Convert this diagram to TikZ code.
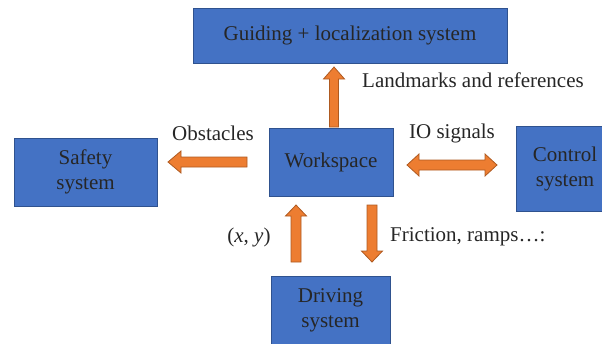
\documentclass[tikz,border=0pt]{standalone}
\usepackage{fontspec}
\setmainfont{Liberation Serif}
\usetikzlibrary{calc}
\definecolor{boxblue}{HTML}{4472C4}
\definecolor{boxedge}{HTML}{2F528F}
\definecolor{arrfill}{HTML}{ED7D31}
\definecolor{arredge}{HTML}{AE5A21}
\definecolor{txt}{HTML}{262626}
\begin{document}
\begin{tikzpicture}[x=1pt,y=-1pt,
 sysbox/.style={draw=boxedge, fill=boxblue, line width=1pt, inner sep=0pt, align=center, text=txt, font=\fontsize{21}{25}\selectfont},
 lbl/.style={text=txt, inner sep=0pt, font=\fontsize{21}{25}\selectfont},
 blockarrow/.style={draw=arredge, fill=arrfill, line width=0.8pt, line join=miter}]
\useasboundingbox (0,0) rectangle (602,343);
% boxes
\node[sysbox, minimum width=314pt, minimum height=55pt] (guide) at (350,35.5) {Guiding + localization system};
\node[sysbox, minimum width=143pt, minimum height=68pt] (safety) at (85.5,172) {Safety\\system};
\node[sysbox, minimum width=124pt, minimum height=68pt] (work) at (331,162) {Workspace};
\node[sysbox, minimum width=98pt, minimum height=85pt] (control) at (565,168.5) {Control\\system};
\node[sysbox, minimum width=119pt, minimum height=68pt] (drive) at (330.5,310) {Driving\\system};
% arrow end points
\coordinate (lmA) at (334,127);
\coordinate (lmB) at (334,67);
\coordinate (obA) at (247,162);
\coordinate (obB) at (168,162);
\coordinate (ioA) at (407,165);
\coordinate (ioB) at (497,165);
\coordinate (xyA) at (296,262);
\coordinate (xyB) at (296,205);
\coordinate (frA) at (372,205);
\coordinate (frB) at (372,262);
% up arrow (landmarks)
\draw[blockarrow] ($(lmA)+(-4.5,0)$) -- ($(lmB)+(-4.5,12)$) -- ($(lmB)+(-10.5,12)$) -- (lmB) -- ($(lmB)+(10.5,12)$) -- ($(lmB)+(4.5,12)$) -- ($(lmA)+(4.5,0)$) -- cycle;
% left arrow (obstacles)
\draw[blockarrow] ($(obA)+(0,-5)$) -- ($(obB)+(13,-5)$) -- ($(obB)+(13,-11)$) -- (obB) -- ($(obB)+(13,11)$) -- ($(obB)+(13,5)$) -- ($(obA)+(0,5)$) -- cycle;
% double arrow (IO)
\draw[blockarrow] (ioA) -- ($(ioA)+(12,-11)$) -- ($(ioA)+(12,-5)$) -- ($(ioB)+(-12,-5)$) -- ($(ioB)+(-12,-11)$) -- (ioB) -- ($(ioB)+(-12,11)$) -- ($(ioB)+(-12,5)$) -- ($(ioA)+(12,5)$) -- ($(ioA)+(12,11)$) -- cycle;
% up arrow (x,y)
\draw[blockarrow] ($(xyA)+(-5,0)$) -- ($(xyB)+(-5,11)$) -- ($(xyB)+(-10.5,11)$) -- (xyB) -- ($(xyB)+(10.5,11)$) -- ($(xyB)+(5,11)$) -- ($(xyA)+(5,0)$) -- cycle;
% down arrow (friction)
\draw[blockarrow] ($(frA)+(-5,0)$) -- ($(frB)+(-5,-11)$) -- ($(frB)+(-10.5,-11)$) -- (frB) -- ($(frB)+(10.5,-11)$) -- ($(frB)+(5,-11)$) -- ($(frA)+(5,0)$) -- cycle;
% labels
\node[lbl, anchor=west] (lmT) at (362,80) {Landmarks and references};
\node[lbl] (obT) at (213,133) {Obstacles};
\node[lbl] (ioT) at (452,133) {IO signals};
\node[lbl] (xyT) at (249,237) {(\textit{x}, \textit{y})};
\node[lbl, anchor=west] (frT) at (390,237) {Friction, ramps…:};
\end{tikzpicture}
\end{document}
